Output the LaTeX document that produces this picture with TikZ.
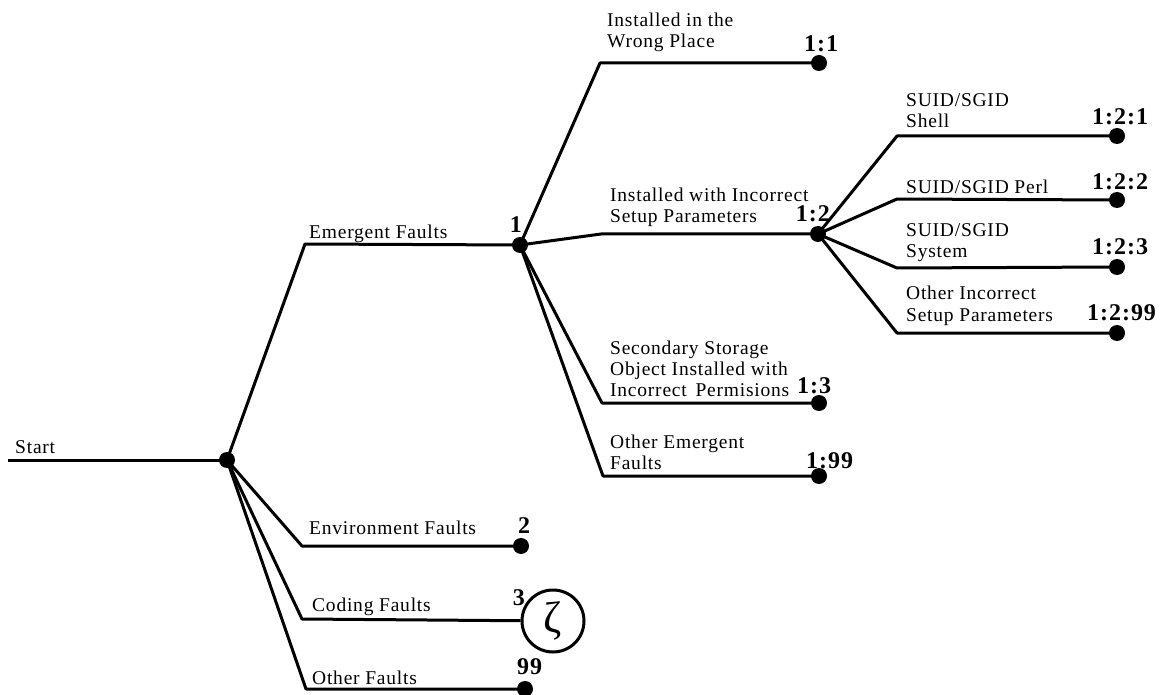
\documentclass[tikz,border=0pt]{standalone}
\usepackage{fontspec}
\setmainfont{Liberation Serif}[LetterSpace=4]
\tikzset{
  branch/.style={line width=3pt, line join=round},
  leaf/.style={circle, fill, inner sep=0pt, minimum size=16pt},
  lbl/.style={anchor=base west, align=left, inner sep=0pt, font=\fontsize{19.5}{21}\selectfont},
  num/.style={inner sep=0pt, font=\fontsize{24}{26}\selectfont\bfseries},
}
\begin{document}
\begin{tikzpicture}[x=1pt, y=-1pt]
    \useasboundingbox (0,0) rectangle (1168,695);
    % start and first split
    \coordinate (S) at (8,460);
    \node[leaf] (R) at (227,460) {};
    \coordinate (eEm) at (305,244);
    \coordinate (eEnv) at (302,546);
    \coordinate (eCod) at (302,619);
    \coordinate (eOth) at (306,689);
    \node[leaf] (n1) at (520,245) {};
    \node[leaf] (n2) at (521,546) {};
    \node[circle, draw, line width=3pt, minimum size=62pt, inner sep=0pt,
          font=\fontsize{44}{44}\selectfont] (n3) at (553,621) {ζ};
    \node[leaf] (n99) at (525,689) {};
    % emergent faults
    \coordinate (eWr) at (600,63);
    \coordinate (eIn) at (601,234);
    \coordinate (eSe) at (602,403);
    \coordinate (eOe) at (603,476);
    \node[leaf] (n11) at (819,63) {};
    \node[leaf] (n12) at (818,234) {};
    \node[leaf] (n13) at (819,403) {};
    \node[leaf] (n199) at (819,476) {};
    % incorrect setup parameters
    \coordinate (eSh) at (897,136);
    \coordinate (ePe) at (897,199);
    \coordinate (eSy) at (897,268);
    \coordinate (eOi) at (897,333);
    \node[leaf] (n121) at (1117,136) {};
    \node[leaf] (n122) at (1117,200) {};
    \node[leaf] (n123) at (1117,267) {};
    \node[leaf] (n1299) at (1117,333) {};

    \draw[branch] (S) -- (R.center);
    \draw[branch] (R.center) -- (eEm) -- (n1.center);
    \draw[branch] (R.center) -- (eEnv) -- (n2.center);
    \draw[branch] (R.center) -- (eCod) -- (n3);
    \draw[branch] (R.center) -- (eOth) -- (n99.center);
    \draw[branch] (n1.center) -- (eWr) -- (n11.center);
    \draw[branch] (n1.center) -- (eIn) -- (n12.center);
    \draw[branch] (n1.center) -- (eSe) -- (n13.center);
    \draw[branch] (n1.center) -- (eOe) -- (n199.center);
    \draw[branch] (n12.center) -- (eSh) -- (n121.center);
    \draw[branch] (n12.center) -- (ePe) -- (n122.center);
    \draw[branch] (n12.center) -- (eSy) -- (n123.center);
    \draw[branch] (n12.center) -- (eOi) -- (n1299.center);

    % branch texts
    \node[lbl] (tS) at (15,453) {Start};
    \node[lbl] (tEm) at (309,239) {Emergent Faults};
    \node[lbl] (tEnv) at (309,534) {Environment Faults};
    \node[lbl] (tCod) at (312,611) {Coding Faults};
    \node[lbl] (tOth) at (312,684) {Other Faults};
    \node[lbl] (tWr) at (607,48) {Installed in the\\Wrong Place};
    \node[lbl] (tIn) at (610,223) {Installed with Incorrect\\Setup Parameters};
    \node[lbl] (tSe) at (610,396) {Secondary Storage\\Object Installed with\\Incorrect\hspace{0.45em}Permisions};
    \node[lbl] (tOe) at (610,469) {Other Emergent\\Faults};
    \node[lbl] (tSh) at (906,128) {SUID/SGID\\Shell};
    \node[lbl] (tPe) at (906,194) {SUID/SGID Perl};
    \node[lbl] (tSy) at (906,258) {SUID/SGID\\System};
    \node[lbl] (tOi) at (906,321) {Other Incorrect\\Setup Parameters};

    % numbers
    \node[num, anchor=base east] (k1) at (522,233) {1};
    \node[num, anchor=base west] (k2) at (518,533) {2};
    \node[num, anchor=base east] (k3) at (525,605) {3};
    \node[num, anchor=base west] (k99) at (517,674) {99};
    \node[num, anchor=base west] (k11) at (804,52) {1:1};
    \node[num, anchor=base east] (k12) at (830,222) {1:2};
    \node[num, anchor=base west] (k13) at (797,393) {1:3};
    \node[num, anchor=base west] (k199) at (806,468) {1:99};
    \node[num, anchor=base west] (k121) at (1092,125) {1:2:1};
    \node[num, anchor=base west] (k122) at (1092,190) {1:2:2};
    \node[num, anchor=base west] (k123) at (1092,255) {1:2:3};
    \node[num, anchor=base west] (k1299) at (1087,320) {1:2:99};
\end{tikzpicture}
\end{document}
